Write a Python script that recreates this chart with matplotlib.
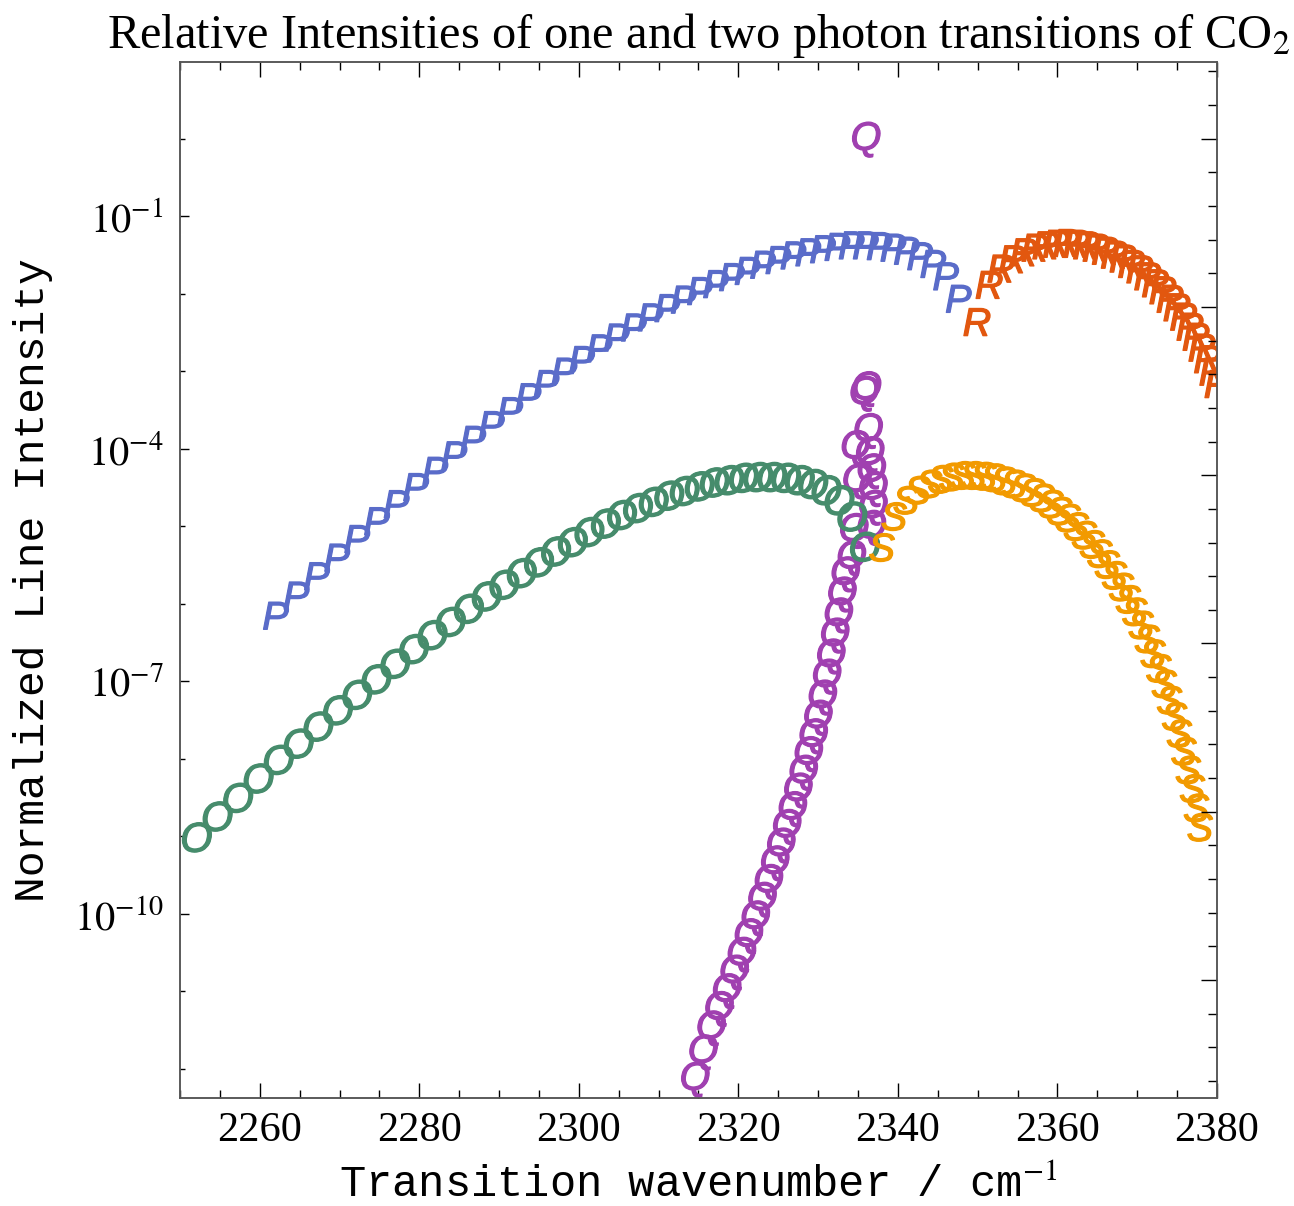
import numpy as np
import matplotlib
matplotlib.use("Agg")
import matplotlib.pyplot as plt
import matplotlib.patheffects as pe
from matplotlib.ticker import FixedLocator, NullFormatter

# ---------------- data (log10 of normalized intensity) ----------------
p_x = [2347.57, 2345.98, 2344.37, 2342.72, 2341.06, 2339.37, 2337.65, 2335.91, 2334.14, 2332.35,
       2330.54, 2328.70, 2326.84, 2324.95, 2323.03, 2321.09, 2319.13, 2317.14, 2315.13, 2313.09,
       2311.03, 2308.94, 2306.83, 2304.69, 2302.53, 2300.34, 2298.13, 2295.89, 2293.63, 2291.34,
       2289.03, 2286.70, 2284.34, 2281.95, 2279.54, 2277.10, 2274.64, 2272.16, 2269.65, 2267.12,
       2264.56, 2261.97]
p_log = [-2.10, -1.81, -1.65, -1.55, -1.48, -1.44, -1.42, -1.41, -1.41, -1.43,
         -1.46, -1.50, -1.54, -1.60, -1.66, -1.74, -1.82, -1.91, -2.00, -2.11,
         -2.22, -2.34, -2.47, -2.60, -2.74, -2.89, -3.04, -3.20, -3.37, -3.55,
         -3.73, -3.92, -4.12, -4.32, -4.53, -4.75, -4.97, -5.20, -5.44, -5.68,
         -5.93, -6.19]

r_x = [2349.91, 2351.44, 2352.92, 2354.38, 2355.80, 2357.19, 2358.55, 2359.88, 2361.17, 2362.43,
       2363.66, 2364.85, 2366.01, 2367.14, 2368.23, 2369.30, 2370.33, 2371.32, 2372.29, 2373.22,
       2374.12, 2374.98, 2375.82, 2376.62, 2377.38, 2378.12, 2378.82, 2379.49, 2380.13]
r_log = [-2.40, -1.92, -1.71, -1.59, -1.50, -1.44, -1.41, -1.39, -1.38, -1.39,
         -1.41, -1.44, -1.48, -1.53, -1.58, -1.65, -1.72, -1.81, -1.90, -1.99,
         -2.10, -2.21, -2.33, -2.46, -2.59, -2.73, -2.88, -3.04, -3.20]

o_x = [2252.05, 2254.65, 2257.23, 2259.79, 2262.32, 2264.82, 2267.29, 2269.74, 2272.16, 2274.56,
       2276.93, 2279.27, 2281.59, 2283.88, 2286.15, 2288.39, 2290.60, 2292.78, 2294.94, 2297.08,
       2299.18, 2301.26, 2303.32, 2305.35, 2307.35, 2309.32, 2311.27, 2313.20, 2315.09, 2316.96,
       2318.81, 2320.62, 2322.42, 2324.18, 2325.92, 2327.63, 2329.32, 2330.98, 2332.61, 2334.22,
       2335.80]
o_log = [-9.06, -8.79, -8.55, -8.30, -8.06, -7.85, -7.63, -7.42, -7.22, -7.02,
         -6.82, -6.63, -6.45, -6.28, -6.11, -5.95, -5.80, -5.65, -5.51, -5.37,
         -5.25, -5.12, -5.01, -4.90, -4.81, -4.73, -4.65, -4.59, -4.53, -4.48,
         -4.45, -4.42, -4.41, -4.41, -4.42, -4.45, -4.50, -4.58, -4.71, -4.92,
         -5.31]

q_x = [2336.0, 2336.1, 2335.8, 2336.3, 2334.7, 2336.5, 2336.7, 2334.9, 2336.9, 2336.9,
       2336.7, 2334.5, 2334.2,
       2333.43, 2333.01, 2332.57, 2332.11, 2331.62, 2331.10, 2330.56, 2330.00, 2329.41, 2328.80,
       2328.16, 2327.49, 2326.80, 2326.09, 2325.35, 2324.59, 2323.80, 2322.99, 2322.15, 2321.29,
       2320.41, 2319.50, 2318.56, 2317.60, 2316.61, 2315.60, 2314.57]
q_log = [0.00, -3.22, -3.28, -3.76, -3.98, -4.06, -4.28, -4.41, -4.51, -4.75,
         -5.01, -5.05, -5.40,
         -5.61, -5.87, -6.14, -6.40, -6.67, -6.93, -7.20, -7.46, -7.70, -7.93,
         -8.17, -8.40, -8.64, -8.87, -9.11, -9.34, -9.58, -9.81, -10.05, -10.28,
         -10.52, -10.75, -10.99, -11.22, -11.47, -11.78, -12.13]

s_x = [2337.97, 2339.50, 2341.00, 2342.47, 2343.92, 2345.34, 2346.73, 2348.09, 2349.43, 2350.74,
       2352.02, 2353.28, 2354.51, 2355.71, 2356.88, 2358.03, 2359.15, 2360.24, 2361.31, 2362.34,
       2363.35, 2364.34, 2365.29, 2366.22, 2367.12, 2368.00, 2368.85, 2369.67, 2370.46, 2371.23,
       2371.96, 2372.68, 2373.36, 2374.02, 2374.65, 2375.25, 2375.82, 2376.37, 2376.89, 2377.39,
       2377.85]
s_log = [-5.31, -4.91, -4.70, -4.57, -4.49, -4.43, -4.40, -4.38, -4.38, -4.39,
         -4.41, -4.45, -4.49, -4.54, -4.60, -4.67, -4.75, -4.84, -4.93, -5.04,
         -5.15, -5.27, -5.39, -5.53, -5.67, -5.82, -5.98, -6.14, -6.31, -6.49,
         -6.68, -6.87, -7.07, -7.28, -7.49, -7.71, -7.94, -8.18, -8.42, -8.67,
         -8.92]

series = [
    ("P", p_x, p_log, "#5A6CC9"),
    ("R", r_x, r_log, "#E2570F"),
    ("Q", q_x, q_log, "#A040B0"),
    ("O", o_x, o_log, "#468C6C"),
    ("S", s_x, s_log, "#F29A00"),
]

x_major = [2260, 2280, 2300, 2320, 2340, 2360, 2380]
y_major_exp = [-1, -4, -7, -10]

# ---------------- figure ----------------
plt.rcParams["mathtext.fontset"] = "stix"
W, H = 1294, 1206
fig = plt.figure(figsize=(W / 100, H / 100), dpi=100)
L, R, T, B = 180, 1217, 62, 1098
ax = fig.add_axes([L / W, 1 - B / H, (R - L) / W, (B - T) / H])
ax.set_xlim(2250, 2380)
ax.set_yscale("log")
ax.set_ylim(10 ** -12.38, 10 ** 0.99)

for ch, xs, ls, col in series:
    size = 30 if ch == "O" else 28.5
    for x, lv in zip(xs, ls):
        t = ax.text(x, 10 ** lv, ch, color=col, fontsize=size, fontstyle="italic",
                    family="Liberation Sans", ha="center", va="center", clip_on=True)
        t.set_path_effects([pe.withStroke(linewidth=0.9, foreground=col)])

# x ticks
ax.xaxis.set_major_locator(FixedLocator(x_major))
ax.xaxis.set_minor_locator(FixedLocator(np.arange(2250, 2381, 5)))
ax.set_xticklabels([str(v) for v in x_major], family="Liberation Serif", fontsize=30.5)
ax.tick_params(axis="x", which="major", direction="in", length=10.8, width=1.0,
               top=True, pad=10, colors="black")
ax.tick_params(axis="x", which="minor", direction="in", length=5.8, width=1.0, top=True)

# left y ticks
ax.yaxis.set_major_locator(FixedLocator([10.0 ** e for e in y_major_exp]))
ax.yaxis.set_minor_locator(FixedLocator([10.0 ** e for e in range(-12, 1)]))
ax.yaxis.set_minor_formatter(NullFormatter())
ax.set_yticklabels([r"$10^{%d}$" % e for e in y_major_exp], fontsize=29)
ax.tick_params(axis="y", which="major", direction="in", length=6.7, width=1.0, pad=12)
ax.tick_params(axis="y", which="minor", direction="in", length=3.4, width=1.0)

# right axis ticks (natural-log spacing)
ax2 = ax.twinx()
ax2.set_yscale("log")
ax2.set_ylim(ax.get_ylim())
ax2.yaxis.set_major_locator(FixedLocator(np.exp(np.arange(-25, 1, 5))))
ax2.yaxis.set_minor_locator(FixedLocator(np.exp(np.arange(-28, 3, 1))))
ax2.yaxis.set_major_formatter(NullFormatter())
ax2.yaxis.set_minor_formatter(NullFormatter())
ax2.tick_params(axis="y", which="major", direction="in", length=11.3, width=1.0)
ax2.tick_params(axis="y", which="minor", direction="in", length=6.5, width=1.0)

for a in (ax, ax2):
    for sp in a.spines.values():
        sp.set_color("#555555")
        sp.set_linewidth(1.1)

ax.set_xlabel(r"Transition wavenumber / cm$^{-1}$", family="Liberation Mono",
              fontsize=31.5, labelpad=10)
ax.set_ylabel("Normalized Line Intensity", family="Liberation Mono", fontsize=31,
              labelpad=15)
ax.set_title("Relative Intensities of one and two photon transitions of CO$_2$",
             family="Liberation Serif", fontsize=34.8, pad=10)

fig.savefig("out.png", dpi=100)
